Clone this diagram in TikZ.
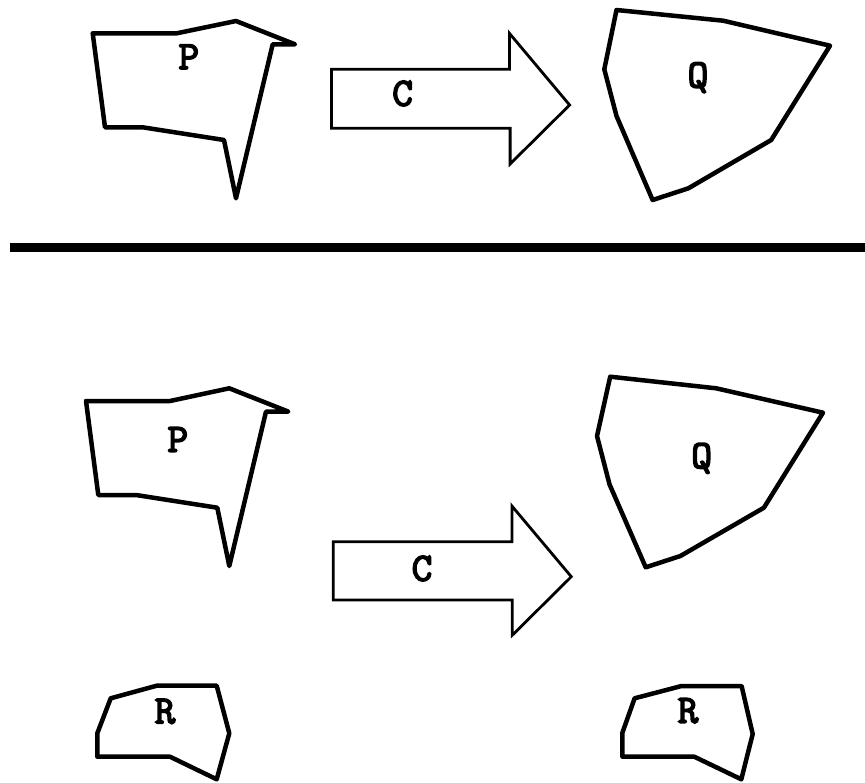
\documentclass[tikz,border=0pt]{standalone}
\usepackage{fontspec}
\newfontfamily\lblfont[FakeBold=4]{Latin Modern Mono}
\begin{document}
\begin{tikzpicture}[x=1pt,y=-1pt,
  poly/.style={draw=black, line width=4.5pt, line join=round},
  bigarrow/.style={draw=black, line width=2.8pt, line join=miter},
  sep/.style={draw=black, line width=9pt},
  lbl/.style={font=\lblfont\fontsize{40}{40}\selectfont, inner sep=0pt, anchor=base}]
\useasboundingbox (0,0) rectangle (865,782);
% ---------- top half ----------
\draw[poly] (92.7,33.3) -- (176.7,33.3) -- (236,21) -- (295,44.3) -- (272.7,44.3) -- (236,198.3) -- (224,140) -- (142.7,127.3) -- (105,127.3) -- cycle;
\node[lbl] (p1) at (188.8,69) {P};
\draw[bigarrow] (331.5,69.3) -- (509.4,69.3) -- (509.4,33.3) -- (569.6,105) -- (510.1,164) -- (510.1,128.3) -- (331.5,128.3) -- cycle;
\node[lbl] (c1) at (402.6,105.7) {C};
\draw[poly] (616.5,10) -- (723.2,20.7) -- (830,45.7) -- (771.2,140) -- (688.4,188.3) -- (652.6,200) -- (616.5,116) -- (604.3,69.3) -- cycle;
\node[lbl] (q1) at (698,87.3) {Q};
% ---------- separator ----------
\coordinate (sl) at (10,247.5);
\coordinate (sr) at (866,247.5);
\draw[sep] (sl) -- (sr);
% ---------- bottom half ----------
\draw[poly] (86,401) -- (170,401) -- (229.3,388.3) -- (288.3,411.6) -- (266,411.6) -- (229.3,566) -- (217.3,507.7) -- (136,495) -- (98.3,495) -- cycle;
\node[lbl] (p2) at (177.8,451.7) {P};
\draw[bigarrow] (333.2,541.7) -- (511.9,541.7) -- (511.9,506) -- (571.3,576.7) -- (512.2,635.3) -- (512.2,600) -- (333.2,600) -- cycle;
\node[lbl] (c2) at (422,580.7) {C};
\draw[poly] (610.2,376.7) -- (716.2,388.3) -- (823,412.7) -- (763.9,507.7) -- (680.4,556) -- (645.7,567.3) -- (609.5,484.3) -- (597,436) -- cycle;
\node[lbl] (q2) at (701.7,468) {Q};
\draw[poly] (110.7,698.3) -- (156.7,685.7) -- (216.7,685.7) -- (229.3,733.3) -- (216.7,779.3) -- (170,756.7) -- (97.3,756.7) -- (97.3,733.3) -- cycle;
\node[lbl] (r1) at (165,723.3) {R};
\draw[poly] (634.6,698.3) -- (681.5,686) -- (741.6,686) -- (752.7,734) -- (741.3,779.3) -- (694.3,756.7) -- (622.4,756.7) -- (622.4,732.7) -- cycle;
\node[lbl] (r2) at (688,722.7) {R};
\end{tikzpicture}
\end{document}
